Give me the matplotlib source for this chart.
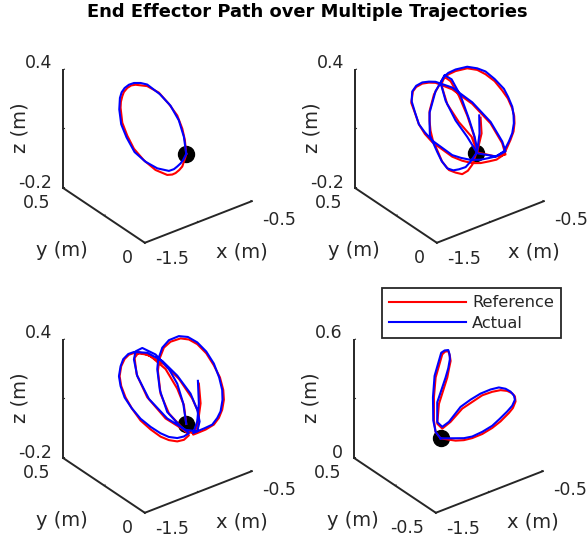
import matplotlib
matplotlib.use('Agg')
import matplotlib.pyplot as plt
from mpl_toolkits.mplot3d import Axes3D

W, H = 587, 537

# y is taken as the middle of the y range for every path
x_ref_1 = [-.732, -.745, -.769, -.816, -.894, -.988, -1.097, -1.206, -1.246, -1.283, -1.315, -1.330, -1.343, -1.346, -1.330, -1.283, -1.221, -1.128, -1.019, -.910, -.863, -.832, -.798, -.769, -.738, -.732]
z_ref_1 = [-.050, .023, .086, .162, .237, .314, .370, .400, .405, .400, .386, .368, .342, .313, .234, .158, .079, .001, -.071, -.119, -.127, -.126, -.118, -.106, -.062, -.050]
x_act_1 = [-.732, -.754, -.801, -.879, -.978, -1.097, -1.159, -1.221, -1.268, -1.308, -1.336, -1.352, -1.358, -1.340, -1.290, -1.215, -1.112, -1.003, -.894, -.847, -.816, -.785, -.760, -.732]
z_act_1 = [-.050, .041, .134, .225, .304, .378, .399, .412, .413, .405, .389, .364, .307, .228, .151, .061, -.010, -.066, -.102, -.103, -.096, -.087, -.074, -.050]

x_ref_2 = [-.751, -.788, -.829, -.882, -.944, -1.006, -1.069, -1.115, -1.156, -1.178, -1.187, -1.187, -1.146, -1.069, -1.012, -.944, -.835, -.741, -.664, -.579, -.508, -.455, -.414, -.396, -.393, -.402, -.430, -.492, -.561, -.632, -.710, -.788, -.882, -.975, -1.162, -1.231, -1.287, -1.324, -1.358, -1.343, -1.312, -1.255, -1.193, -1.131, -.975, -.788, -.617, -.508, -.477, -.570, -.741, -.794, -.913, -1.022, -1.078, -1.047, -.991, -.913, -.835, -.773, -.741, -.701, -.710]
z_ref_2 = [-.043, -.093, -.115, -.121, -.100, -.074, -.019, .049, .107, .161, .213, .263, .338, .397, .411, .414, .405, .377, .339, .286, .224, .172, .113, .071, .034, -.006, -.042, -.104, -.115, -.109, -.101, -.085, -.053, -.013, .100, .156, .217, .283, .340, .395, .411, .416, .408, .394, .328, .215, .080, -.043, -.107, -.097, -.041, .050, .149, .263, .374, .406, .373, .282, .166, .053, -.036, .047, .129]
x_act_2 = [-.751, -.804, -.850, -.913, -.966, -1.022, -1.075, -1.115, -1.156, -1.184, -1.187, -1.187, -1.131, -1.047, -1.012, -.944, -.835, -.741, -.664, -.579, -.492, -.452, -.414, -.402, -.399, -.414, -.445, -.492, -.561, -.632, -.710, -.804, -.891, -.975, -1.162, -1.231, -1.287, -1.324, -1.355, -1.349, -1.312, -1.255, -1.193, -1.131, -.975, -.788, -.617, -.508, -.477, -.570, -.741, -.835, -.944, -1.037, -1.084, -1.047, -.981, -.897, -.819, -.766, -.741, -.720, -.723]
z_act_2 = [-.043, -.074, -.092, -.090, -.084, -.062, -.013, .040, .099, .138, .197, .255, .352, .410, .419, .422, .413, .385, .353, .297, .229, .179, .122, .077, .035, -.012, -.047, -.087, -.098, -.092, -.084, -.065, -.037, -.005, .108, .164, .217, .286, .348, .396, .417, .422, .413, .399, .337, .223, .088, -.034, -.091, -.097, -.045, .058, .164, .283, .384, .415, .380, .279, .146, .044, -.031, .051, .143]

x_ref_3 = [-.732, -.754, -.816, -.925, -1.065, -1.174, -1.215, -1.196, -1.097, -.925, -.754, -.660, -.629, -.614, -.676, -.801, -.941, -1.097, -1.221, -1.268, -1.308, -1.340, -1.355, -1.340, -1.299, -1.237, -1.159, -1.065, -.972, -.894, -.816, -.754, -.707, -.738, -.894, -.972, -.997, -.984, -.941, -.879, -.785, -.707, -.629, -.545, -.474, -.417, -.386, -.380, -.396, -.427, -.474, -.551, -.629, -.667, -.623, -.598, -.614]
z_ref_3 = [-.050, .050, .146, .268, .363, .407, .386, .299, .162, .018, -.076, -.115, -.068, -.021, .067, .193, .296, .378, .412, .413, .400, .370, .323, .270, .203, .132, .057, -.008, -.064, -.098, -.121, -.126, -.113, -.087, .037, .153, .274, .330, .380, .397, .394, .372, .332, .268, .192, .119, .049, -.002, -.049, -.084, -.108, -.117, -.118, -.118, -.069, .026, .129]
x_act_3 = [-.732, -.760, -.816, -.894, -1.019, -1.143, -1.206, -1.221, -1.190, -1.081, -.910, -.738, -.629, -.607, -.629, -.692, -.816, -.956, -1.097, -1.221, -1.274, -1.321, -1.346, -1.361, -1.346, -1.308, -1.243, -1.159, -1.065, -.972, -.894, -.816, -.754, -.707, -.785, -.910, -.978, -1.003, -.994, -.956, -.894, -.801, -.717, -.629, -.545, -.474, -.424, -.396, -.393, -.411, -.442, -.489, -.561, -.629, -.667, -.629, -.614, -.623]
z_act_3 = [-.050, .059, .171, .262, .362, .421, .417, .379, .289, .150, .015, -.079, -.109, -.064, -.001, .095, .212, .316, .387, .417, .418, .402, .371, .324, .271, .205, .138, .066, .005, -.047, -.082, -.104, -.109, -.102, -.052, .048, .171, .284, .332, .383, .408, .409, .387, .341, .277, .201, .120, .051, .000, -.054, -.081, -.105, -.108, -.109, -.110, -.059, .029, .145]

x_ref_4 = [-1.075, -.935, -.857, -.779, -.685, -.592, -.514, -.436, -.399, -.374, -.380, -.405, -.452, -.514, -.592, -.685, -.779, -.872, -.981, -1.059, -1.106, -1.090, -1.012, -.997, -.981, -.988, -1.003, -1.034, -1.059, -1.090, -1.121, -1.137, -1.137, -1.121, -1.075]
z_ref_4 = [.149, .108, .094, .088, .089, .100, .117, .143, .160, .188, .215, .236, .258, .275, .283, .285, .271, .257, .213, .195, .230, .327, .444, .483, .521, .548, .576, .579, .571, .519, .467, .370, .253, .191, .149]
x_act_4 = [-1.075, -.935, -.857, -.779, -.685, -.592, -.523, -.452, -.405, -.380, -.389, -.421, -.467, -.530, -.607, -.701, -.794, -.888, -.997, -1.059, -1.106, -1.106, -1.028, -1.003, -.988, -.991, -1.003, -1.037, -1.069, -1.100, -1.131, -1.146, -1.143, -1.121, -1.075]
z_act_4 = [.149, .120, .104, .096, .100, .111, .131, .154, .173, .198, .221, .248, .272, .292, .298, .297, .286, .269, .216, .204, .238, .338, .447, .489, .531, .557, .581, .586, .581, .529, .477, .372, .254, .191, .149]

x_refs = [x_ref_1, x_ref_2, x_ref_3, x_ref_4]
z_refs = [z_ref_1, z_ref_2, z_ref_3, z_ref_4]
x_acts = [x_act_1, x_act_2, x_act_3, x_act_4]
z_acts = [z_act_1, z_act_2, z_act_3, z_act_4]

x_limits = [(-1.5, -.5)] * 4
y_limits = [(0, .5), (0, .5), (0, .5), (-.5, .5)]
z_limits = [(-.2, .4), (-.2, .4), (-.2, .4), (0, .6)]
z_ticklabels = [('-0.2', '0.4'), ('-0.2', '0.4'), ('-0.2', '0.4'), ('0', '0.6')]
y_ticklabels = [('0', '0.5'), ('0', '0.5'), ('0', '0.5'), ('-0.5', '0.5')]
x_ticklabels = ('-1.5', '-0.5')

centers = [(157, 135), (449, 135), (157, 405), (448, 405)]
axis_color = '#262626'


def put_text(px, py, s, **kw):
    kw.setdefault('fontsize', 12.5)
    kw.setdefault('color', axis_color)
    kw.setdefault('va', 'center')
    fig.text(px / W, 1 - py / H, s, **kw)


fig = plt.figure(figsize=(W / 100, H / 100), dpi=100)
side = 228

for i in range(4):
    cx, cy = centers[i]
    ax = fig.add_axes([(cx - 2.5 - side / 2) / W, 1 - (cy + 3.5 + side / 2) / H, side / W, side / H],
                      projection='3d', proj_type='ortho')
    ax.computed_zorder = False
    ax.view_init(elev=30.7, azim=-127.3)
    ax.set_box_aspect((1, 1, 1.025))
    ax.set_xlim(*x_limits[i])
    ax.set_ylim(*y_limits[i])
    ax.set_zlim(*z_limits[i])
    ax.set_axis_off()
    ax.patch.set_alpha(0)

    x0, x1 = x_limits[i]
    y0, y1 = y_limits[i]
    z0, z1 = z_limits[i]
    ax.plot([x0, x1], [y0, y0], [z0, z0], color=axis_color, lw=1.4, zorder=1)
    ax.plot([x0, x0], [y0, y1], [z0, z0], color=axis_color, lw=1.4, zorder=1)
    ax.plot([x0, x0], [y1, y1], [z0, z1], color=axis_color, lw=1.4, zorder=1)

    # tiny ticks at the ends and the middle of each axis
    dx = 0.01 * (x1 - x0)
    dy = 0.01 * (y1 - y0)
    for f in (0, .5, 1):
        tx = x0 + f * (x1 - x0)
        ty = y0 + f * (y1 - y0)
        tz = z0 + f * (z1 - z0)
        ax.plot([tx, tx], [y0, y0 + dy], [z0, z0], color=axis_color, lw=.8, zorder=1)
        ax.plot([x0, x0 + dx], [ty, ty], [z0, z0], color=axis_color, lw=.8, zorder=1)
        ax.plot([x0, x0 + dx], [y1, y1], [tz, tz], color=axis_color, lw=.8, zorder=1)

    ym = (y0 + y1) / 2
    ax.plot([x_refs[i][0]], [ym], [z_refs[i][0]], 'o', color='k', ms=11.5, zorder=2)
    ax.plot(x_refs[i], [ym] * len(x_refs[i]), z_refs[i], color='#ff0000', lw=1.5,
            solid_joinstyle='round', zorder=3)
    ax.plot(x_acts[i], [ym] * len(x_acts[i]), z_acts[i], color='#0000ff', lw=1.5,
            solid_joinstyle='round', zorder=4)

    put_text(cx - 105, cy - 72, z_ticklabels[i][1], ha='right')
    put_text(cx - 105, cy + 48, z_ticklabels[i][0], ha='right')
    put_text(cx - 107, cy + 68, y_ticklabels[i][1], ha='right')
    put_text(cx - 24, cy + 123, y_ticklabels[i][0], ha='right')
    put_text(cx + 15, cy + 124, x_ticklabels[0], ha='center')
    put_text(cx + 105, cy + 85, x_ticklabels[1], ha='left')
    put_text(cx + 85, cy + 117, 'x (m)', ha='center', fontsize=14)
    put_text(cx - 95, cy + 115, 'y (m)', ha='center', fontsize=14)
    put_text(cx - 137, cy - 7, 'z (m)', ha='center', rotation=90, fontsize=14)

    if i == 3:
        h1, = ax.plot([], [], [], color='#ff0000', lw=1.5, label='Reference')
        h2, = ax.plot([], [], [], color='#0000ff', lw=1.5, label='Actual')

leg = fig.legend(handles=[h1, h2], loc='upper left', bbox_to_anchor=(382 / W, 1 - 288 / H),
                 fontsize=11.7, frameon=True, fancybox=False, framealpha=1,
                 edgecolor=axis_color, borderaxespad=0, labelcolor=axis_color,
                 handlelength=4.7, labelspacing=0.35, borderpad=0.45, handletextpad=0.4)
leg.get_frame().set_linewidth(1.3)

put_text(307, 12, 'End Effector Path over Multiple Trajectories', ha='center',
         fontweight='bold', fontsize=12.87, color='k')

fig.savefig('out.png', dpi=100)
